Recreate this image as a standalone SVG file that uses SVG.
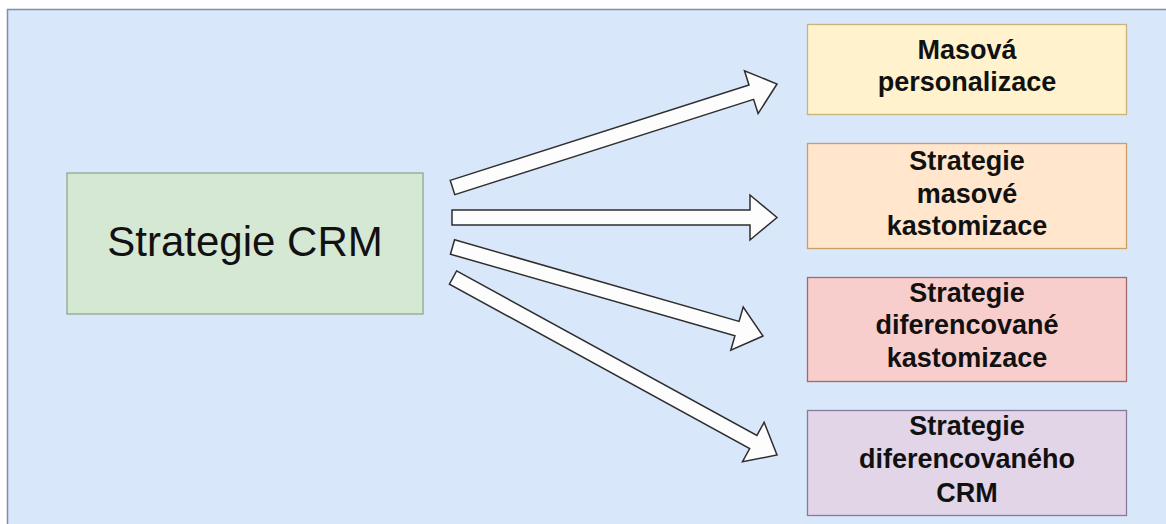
<svg xmlns="http://www.w3.org/2000/svg" width="1166" height="524" viewBox="0 0 1166 524">
  <style>
    .box { stroke-width: 1.3; }
    .lbl { font-family: "Liberation Sans", Arial, sans-serif; font-weight: bold; font-size: 27px; fill: #111; text-anchor: middle; }
    .main { font-family: "Liberation Sans", Arial, sans-serif; font-size: 42px; fill: #111; text-anchor: middle; }
    .arrow { fill: #fdfdfd; stroke: #2e2e2e; stroke-width: 1.5; stroke-linejoin: miter; }
  </style>
  <rect x="0" y="0" width="1166" height="524" fill="#ffffff"/>
  <g id="background">
    <rect x="7.5" y="9.5" width="1170" height="530" fill="#d9e7fa" stroke="#7d8fab" stroke-width="1.5"/>
  </g>
  <g id="connectors">
    <polygon class="arrow" points="450.2,180.35 749.0,85.05 744.5,70.8 777,84 758.1,113.6 753.6,99.35 454.8,194.65"/>
    <polygon class="arrow" points="452,210 750,210 750,195 777,217.5 750,240 750,225 452,225"/>
    <polygon class="arrow" points="454.57,239.79 739.07,321.39 743.2,306.97 763,336 730.8,350.23 734.93,335.81 450.43,254.21"/>
    <polygon class="arrow" points="456.6,270.92 756.9,435.42 764.11,422.27 777,455 742.49,461.73 749.7,448.58 449.4,284.08"/>
  </g>
  <g id="node-strategie-crm">
    <rect class="box" x="67" y="173" width="356" height="141" fill="#d5e8d4" stroke="#8fa88b"/>
    <text class="main" x="245" y="256">Strategie CRM</text>
  </g>
  <g id="node-masova-personalizace">
    <rect class="box" x="807.5" y="24.5" width="319" height="90" fill="#fff2cc" stroke="#c9b37a"/>
    <text class="lbl" x="967" y="59">Masová</text>
    <text class="lbl" x="967" y="91">personalizace</text>
  </g>
  <g id="node-masove-kastomizace">
    <rect class="box" x="807.5" y="143.5" width="319" height="105" fill="#ffe6cc" stroke="#c9a063"/>
    <text class="lbl" x="967" y="170">Strategie</text>
    <text class="lbl" x="967" y="203">masové</text>
    <text class="lbl" x="967" y="235">kastomizace</text>
  </g>
  <g id="node-diferencovane-kastomizace">
    <rect class="box" x="807.5" y="277.5" width="319" height="104" fill="#f8cecc" stroke="#a06a68"/>
    <text class="lbl" x="967" y="302">Strategie</text>
    <text class="lbl" x="967" y="334">diferencované</text>
    <text class="lbl" x="967" y="367">kastomizace</text>
  </g>
  <g id="node-diferencovaneho-crm">
    <rect class="box" x="807.5" y="410.5" width="319" height="105" fill="#e1d5e7" stroke="#8a7a9a"/>
    <text class="lbl" x="967" y="435">Strategie</text>
    <text class="lbl" x="967" y="468">diferencovaného</text>
    <text class="lbl" x="967" y="502">CRM</text>
  </g>
</svg>
